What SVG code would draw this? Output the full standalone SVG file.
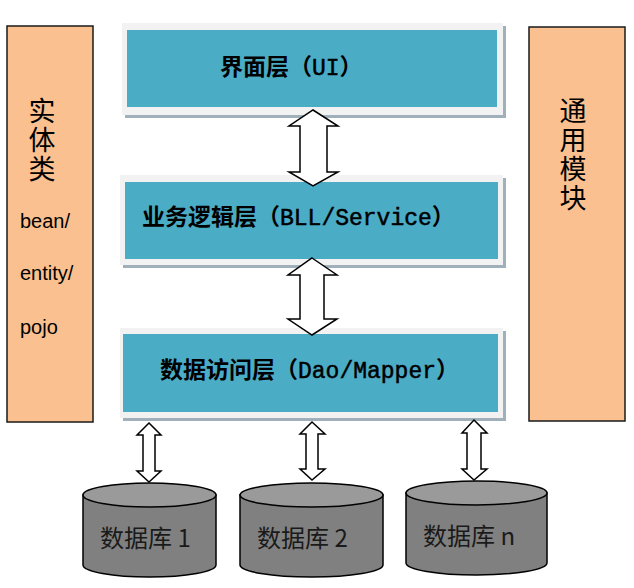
<svg xmlns="http://www.w3.org/2000/svg" width="634" height="588" viewBox="0 0 634 588">
<defs>
<style>
.side{fill:#FAC08F;stroke:#1a1a1a;stroke-width:1.5}
.frame{fill:#f2f2f2}
.shadow{fill:#9fb0ba}
.teal{fill:#4BACC6}
.layer{font-family:"Liberation Mono","Noto Sans CJK SC",monospace;font-size:23px;font-weight:bold;fill:#000}
.lm{font-weight:normal;stroke:#000;stroke-width:0.5}
.vert{font-family:"Noto Sans CJK SC",sans-serif;font-size:27px;letter-spacing:2px;fill:#000;writing-mode:vertical-rl}
.lat{font-family:"Liberation Sans",Arial,sans-serif;font-size:20px;fill:#000}
.arrow{fill:#fff;stroke:#000;stroke-width:1.5;stroke-linejoin:miter}
.cylb{fill:#808080;stroke:#000;stroke-width:1.5}
.cylt{fill:#9a9a9a;stroke:#000;stroke-width:1.5}
.db{font-family:"Noto Sans CJK SC",sans-serif;font-size:24px;fill:#1a1a1a}
</style>
</defs>
<rect width="634" height="588" fill="#fff"/>

<g id="entity">
<rect class="side" x="7" y="26" width="86" height="396"/>
<text class="vert" x="42" y="97">实体类</text>
<text class="lat" x="20" y="228">bean/</text>
<text class="lat" x="20" y="280">entity/</text>
<text class="lat" x="20" y="334">pojo</text>
</g>

<g id="common">
<rect class="side" x="529" y="27" width="96" height="394"/>
<text class="vert" x="573" y="97">通用模块</text>
</g>

<g id="ui">
<rect class="shadow" x="125" y="26" width="381" height="92"/>
<rect class="frame" x="122" y="23" width="381" height="92"/>
<rect class="teal" x="127" y="30" width="370" height="77"/>
<text class="layer" x="220" y="75">界面层（<tspan class="lm">UI</tspan>）</text>
</g>

<g id="bll">
<rect class="shadow" x="123" y="178" width="383" height="90"/>
<rect class="frame" x="120" y="175" width="383" height="90"/>
<rect class="teal" x="125" y="182" width="373" height="77"/>
<text class="layer" x="142" y="225">业务逻辑层（<tspan class="lm">BLL/Service</tspan>）</text>
</g>

<g id="dao">
<rect class="shadow" x="123" y="331" width="383" height="90"/>
<rect class="frame" x="120" y="328" width="383" height="90"/>
<rect class="teal" x="123" y="334" width="375" height="78"/>
<text class="layer" x="160" y="378">数据访问层（<tspan class="lm">Dao/Mapper</tspan>）</text>
</g>

<g id="db1">
<path class="cylb" d="M83,495 L83,565 A66.5,12 0 0 0 216,565 L216,495 Z"/>
<ellipse class="cylt" cx="149.5" cy="495" rx="66.5" ry="12"/>
<text class="db" x="100" y="547">数据库 1</text>
</g>

<g id="db2">
<path class="cylb" d="M240,495 L240,565 A71.5,12 0 0 0 383,565 L383,495 Z"/>
<ellipse class="cylt" cx="311.5" cy="495" rx="71.5" ry="12"/>
<text class="db" x="257" y="547">数据库 2</text>
</g>

<g id="dbn">
<path class="cylb" d="M406,493 L406,563 A70.5,12 0 0 0 547,563 L547,493 Z"/>
<ellipse class="cylt" cx="476.5" cy="493" rx="70.5" ry="12"/>
<text class="db" x="423" y="545">数据库 n</text>
</g>

<g id="connectors">
<path class="arrow" d="M313,110 L338,126 L327,126 L327,172 L338,172 L313,186 L289,172 L300,172 L300,126 L289,126 Z"/>
<path class="arrow" d="M312,258 L337,275 L324,275 L324,319 L337,319 L312,335 L288,319 L300,319 L300,275 L288,275 Z"/>
<path class="arrow" d="M149,423 L161,435 L155,435 L155,471 L161,471 L149,482 L137,471 L143,471 L143,435 L137,435 Z"/>
<path class="arrow" d="M312,422 L325,434 L318,434 L318,469 L325,469 L312,480 L300,469 L306,469 L306,434 L300,434 Z"/>
<path class="arrow" d="M474,420 L487,433 L481,433 L481,469 L487,469 L474,480 L462,469 L467,469 L467,433 L462,433 Z"/>
</g>
</svg>
